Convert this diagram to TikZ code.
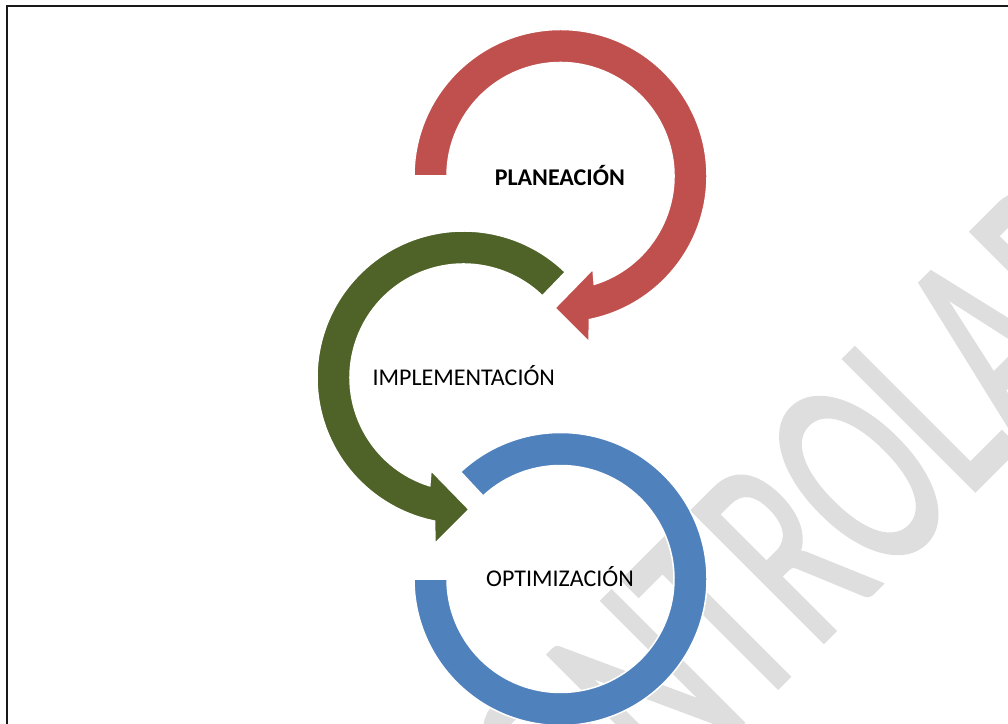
\documentclass[tikz,border=0pt]{standalone}
\usepackage{graphicx}
\usepackage{fontspec}
\setmainfont{Carlito}
\newfontfamily\wmfont[FakeBold=1.5]{Carlito}
\definecolor{redarc}{HTML}{C0504D}
\definecolor{greenarc}{HTML}{4F6228}
\definecolor{bluearc}{HTML}{4F81BD}
\definecolor{wmgray}{HTML}{DEDEDE}
\begin{document}
\begin{tikzpicture}[x=1pt,y=1pt,
  ring/.style={draw=white,line width=1.5pt,line join=miter},
  phasetext/.style={font=\fontsize{24}{28}\selectfont,inner sep=0pt,anchor=base,text=black},
  wm/.style={rotate=45,anchor=base west,inner sep=0pt,text=wmgray,font=\wmfont\fontsize{180}{180}\selectfont},
  framestyle/.style={line width=2pt,draw=black!90}]
\useasboundingbox (0,0) rectangle (1008,723);
\clip (0,0) rectangle (1008,723);
% watermark
\node[wm] (wm) at (518.7,-223.3) {\scalebox{1}[1.6]{CONTROLADO}};
% frame
\coordinate (fbl) at (7,-20);
\coordinate (ftl) at (7,717);
\coordinate (ftr) at (1030,717);
\draw[framestyle] (fbl) -- (ftl) -- (ftr);
% red circular arrow
\begin{scope}[shift={(560.5,547)}]
\path[ring,fill=redarc] (180:146.5) arc[start angle=180,end angle=-78.6,radius=146.5]
  -- (28.5,-166) -- (-5.5,-132) -- (32.5,-93) -- (-72.7:113.5)
  arc[start angle=-72.7,end angle=180,radius=113.5] -- cycle;
\end{scope}
% green circular arrow
\begin{scope}[shift={(463.5,345.5)}]
\path[ring,fill=greenarc] (46:146.5) arc[start angle=46,end angle=258.6,radius=146.5]
  -- (-28.5,-166) -- (5.5,-132) -- (-32.5,-93) -- (252.7:113.5)
  arc[start angle=252.7,end angle=46,radius=113.5] -- cycle;
\end{scope}
% blue ring segment
\begin{scope}[shift={(560.5,144)}]
\path[ring,fill=bluearc] (180:146.5) arc[start angle=180,end angle=493,radius=146.5]
  -- (493:113.5) arc[start angle=493,end angle=180,radius=113.5] -- cycle;
\end{scope}
% labels
\node[phasetext,font=\bfseries\fontsize{24}{28}\selectfont] (plan) at (559.8,537) {PLANEACIÓN};
\node[phasetext] (impl) at (463.8,337.3) {IMPLEMENTACIÓN};
\node[phasetext] (opt) at (560,136.3) {OPTIMIZACIÓN};
\end{tikzpicture}
\end{document}
